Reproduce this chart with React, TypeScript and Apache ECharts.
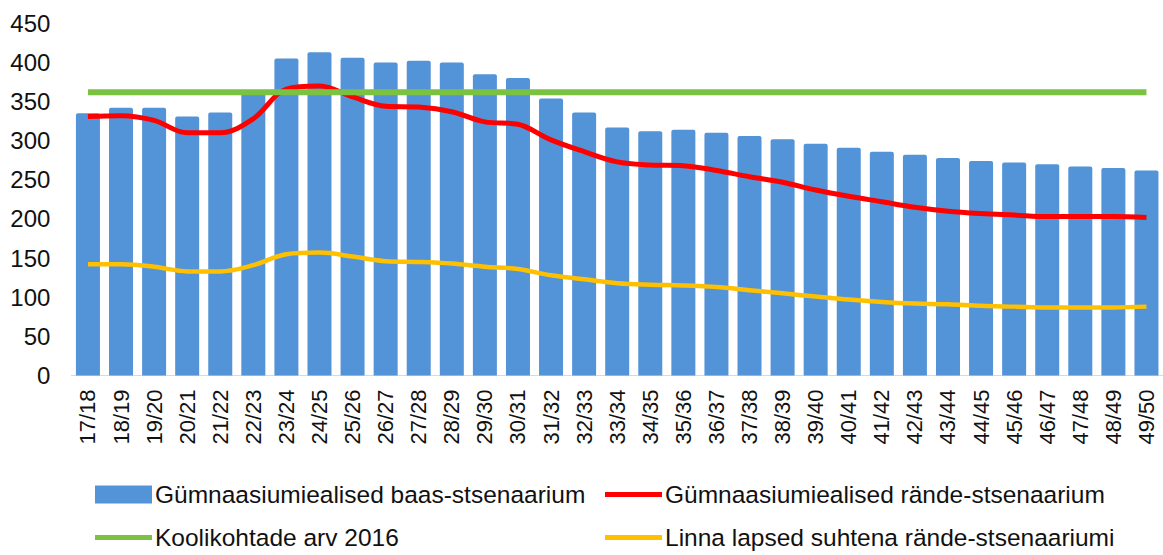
import React, { useEffect, useRef } from "react";
import * as echarts from "echarts";

const categories = [
  "17/18", "18/19", "19/20", "20/21", "21/22", "22/23", "23/24", "24/25", "25/26", "26/27",
  "27/28", "28/29", "29/30", "30/31", "31/32", "32/33", "33/34", "34/35", "35/36", "36/37",
  "37/38", "38/39", "39/40", "40/41", "41/42", "42/43", "43/44", "44/45", "45/46", "46/47",
  "47/48", "48/49", "49/50",
];

const baseScenario = [
  335, 342, 342, 331, 336, 362, 405, 413, 406, 400,
  402, 400, 385, 380, 354, 336, 317, 312, 314, 310,
  306, 302, 296, 291, 286, 282, 278, 274, 272, 270,
  267, 265, 262,
];

const migrationScenario = [
  331, 332, 326, 310, 310, 328, 366, 370, 356, 344,
  343, 337, 324, 321, 301, 286, 273, 269, 268, 262,
  254, 247, 237, 229, 222, 215, 210, 207, 205, 203,
  203, 203, 202,
];

const schoolPlaces2016 = [
  362, 362, 362, 362, 362, 362, 362, 362, 362, 362,
  362, 362, 362, 362, 362, 362, 362, 362, 362, 362,
  362, 362, 362, 362, 362, 362, 362, 362, 362, 362,
  362, 362, 362,
];

const cityChildren = [
  142, 142, 139, 133, 133, 141, 155, 157, 152, 146,
  145, 143, 139, 136, 128, 123, 118, 116, 115, 113,
  109, 105, 101, 97, 94, 92, 91, 89, 88, 87,
  87, 87, 88,
];

const yTicks = { min: 0, max: 450, interval: 50 };

const names = [
  "Gümnaasiumiealised baas-stsenaarium",
  "Gümnaasiumiealised rände-stsenaarium",
  "Koolikohtade arv 2016",
  "Linna lapsed suhtena rände-stsenaariumi",
];

const FONT = "'Liberation Sans', Arial, sans-serif";

export default function App() {
  const ref = useRef<HTMLDivElement>(null);

  useEffect(() => {
    if (!ref.current) return;
    const chart = echarts.init(ref.current, undefined, { renderer: "svg" });
    const legendText = {
      fontFamily: FONT,
      fontSize: 24.5,
      color: "#111",
      padding: [0, 0, 0, -2],
    };
    const mkLegend = (name: string, left: number, top: number, h: number) => ({
      show: true,
      left,
      top,
      padding: 0,
      itemWidth: 57,
      itemHeight: h,
      data: [{ name, icon: "rect" }],
      textStyle: legendText,
      selectedMode: false,
    });
    chart.setOption({
      animation: false,
      textStyle: { fontFamily: FONT },
      grid: { left: 71.4, right: -4.6, top: 23.3, bottom: 179.5, containLabel: false },
      legend: [
        mkLegend(names[0], 95, 482, 18),
        mkLegend(names[1], 605, 482, 5),
        mkLegend(names[2], 95, 525, 5),
        mkLegend(names[3], 605, 525, 5),
      ],
      xAxis: {
        type: "category",
        data: categories,
        axisTick: { show: false },
        axisLine: { show: true, lineStyle: { color: "#d9d9d9", width: 1 } },
        axisLabel: {
          rotate: 90,
          interval: 0,
          margin: 14,
          fontSize: 22,
          color: "#111",
          fontFamily: FONT,
        },
      },
      yAxis: {
        type: "value",
        min: yTicks.min,
        max: yTicks.max,
        interval: yTicks.interval,
        splitLine: { show: false },
        axisLine: { show: false },
        axisTick: { show: false },
        axisLabel: { fontSize: 24, color: "#111", margin: 21, fontFamily: FONT },
      },
      series: [
        {
          name: names[0],
          type: "bar",
          data: baseScenario,
          barWidth: 24,
          color: "#5393d8",
          itemStyle: { color: "#5393d8", borderRadius: [2, 2, 0, 0] },
        },
        {
          name: names[1],
          type: "line",
          data: migrationScenario,
          smooth: 0.35,
          showSymbol: false,
          symbol: "none",
          color: "#ff0000",
          lineStyle: { color: "#ff0000", width: 5 },
        },
        {
          name: names[2],
          type: "line",
          data: schoolPlaces2016,
          showSymbol: false,
          symbol: "none",
          color: "#7cc242",
          lineStyle: { color: "#7cc242", width: 6 },
        },
        {
          name: names[3],
          type: "line",
          data: cityChildren,
          smooth: 0.35,
          showSymbol: false,
          symbol: "none",
          color: "#ffc000",
          lineStyle: { color: "#ffc000", width: 4.5 },
        },
      ],
    });
    return () => chart.dispose();
  }, []);

  return (
    <div
      ref={ref}
      style={{ position: "fixed", left: 0, top: 0, width: 1163, height: 555, background: "#fff" }}
    />
  );
}
